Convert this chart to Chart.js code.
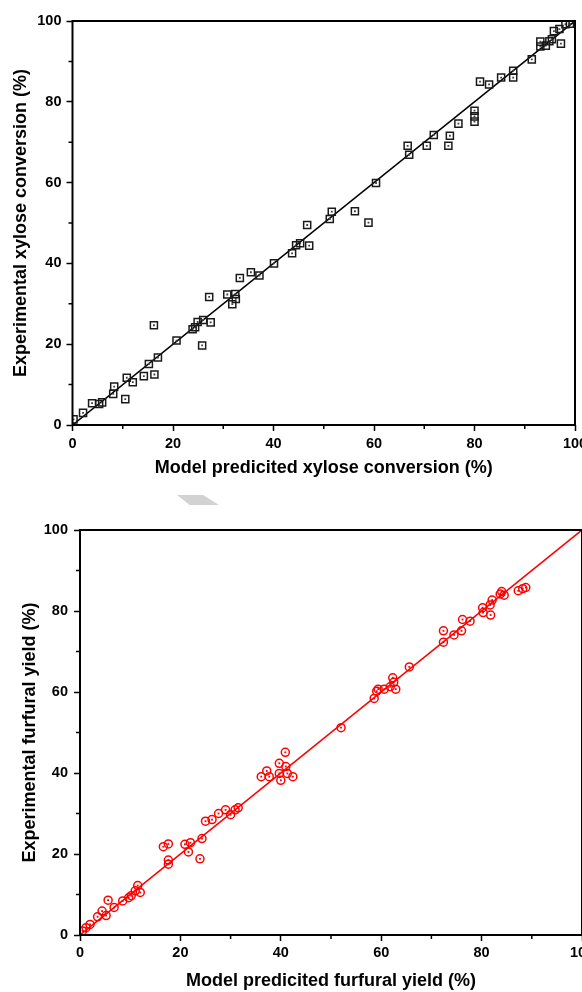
<!DOCTYPE html>
<html>
<head>
<meta charset="utf-8">
<script src="https://cdn.jsdelivr.net/npm/chart.js@4.4.0/dist/chart.umd.min.js"></script>
<style>
html, body { margin: 0; padding: 0; width: 582px; height: 992px; overflow: hidden; background: #fff; }
#xyloseChart { position: absolute; left: 0; top: 0; }
#furfuralChart { position: absolute; left: 0; top: 480px; }
.arrow-mark { position: absolute; left: 177px; top: 495px; width: 42px; height: 10px; background: #d2d2d2;
  clip-path: polygon(0 0, 62% 0, 100% 100%, 30% 100%); }
</style>
</head>
<body>
<canvas id="xyloseChart" width="620" height="480"></canvas>
<canvas id="furfuralChart" width="620" height="512"></canvas>
<div class="arrow-mark"></div>
<script>
// xylose conversion (%): model prediction vs experiment
var xylosePredicted = [0.2, 2.1, 3.9, 5.3, 5.9, 8.1, 8.3, 10.5, 10.8, 12.0, 14.2, 15.2, 16.2, 16.3, 17.0,
  20.7, 23.9, 24.4, 24.9, 25.8, 26.0, 27.2, 27.5, 30.8, 31.8, 32.4, 32.5, 33.3, 35.5, 37.2, 40.1,
  43.7, 44.5, 45.3, 47.1, 46.7, 51.2, 51.6, 56.2, 58.9, 60.4, 66.7, 67.0, 70.5, 71.9, 74.8, 75.1,
  76.8, 80.0, 80.0, 80.0, 81.1, 82.9, 85.3, 87.7, 87.7, 91.4, 93.1, 93.1, 94.2, 94.9, 95.4, 97.2,
  95.8, 96.9, 98.1, 99.0];
var xyloseExperimental = [1.4, 3.0, 5.4, 5.2, 5.6, 7.7, 9.5, 6.4, 11.7, 10.6, 12.1, 15.1, 24.7, 12.5, 16.7,
  20.9, 23.7, 24.2, 25.5, 19.7, 26.0, 31.7, 25.4, 32.3, 29.9, 32.4, 31.2, 36.4, 37.8, 37.0, 40.0,
  42.5, 44.5, 45.0, 44.4, 49.5, 51.0, 52.8, 52.9, 50.1, 59.9, 69.1, 66.9, 69.1, 71.8, 69.1, 71.6,
  74.6, 77.8, 76.4, 75.1, 85.0, 84.3, 86.0, 87.7, 86.0, 90.5, 94.9, 93.7, 93.9, 95.0, 95.5, 94.4,
  97.5, 98.0, 99.2, 99.3];

// furfural yield (%): model prediction vs experiment
var furfuralPredicted = [0.5, 1.2, 2.0, 3.5, 4.4, 5.2, 5.6, 6.8, 8.5, 9.7, 10.2, 11.0, 11.5, 12.0,
  16.6, 17.6, 17.6, 17.6, 20.9, 21.6, 22.0, 23.9, 24.3, 25.0, 26.3, 27.6, 29.0, 30.0, 30.9, 31.5,
  36.1, 37.2, 37.7, 39.7, 39.7, 40.0, 40.9, 41.0, 41.3, 42.4, 52.0, 58.6, 59.1, 59.4, 60.6, 61.8,
  62.3, 62.5, 62.9, 65.6, 72.4, 72.4, 74.5, 76.0, 76.2, 77.7, 80.2, 80.3, 81.7, 81.8, 82.1, 83.7,
  84.0, 84.5, 87.3, 88.2, 88.8];
var furfuralExperimental = [1.0, 1.8, 2.6, 4.5, 5.9, 4.8, 8.6, 6.8, 8.4, 9.2, 9.7, 10.9, 12.2, 10.5,
  21.8, 22.5, 18.5, 17.5, 22.4, 20.5, 22.8, 18.8, 23.8, 28.1, 28.5, 30.0, 30.9, 29.7, 30.9, 31.4,
  39.1, 40.5, 39.1, 42.4, 39.9, 38.2, 45.1, 41.6, 39.9, 39.1, 51.2, 58.4, 60.2, 60.7, 60.7, 61.3,
  63.5, 62.4, 60.7, 66.2, 72.3, 75.1, 74.1, 75.1, 77.9, 77.5, 80.8, 79.6, 81.5, 79.0, 82.7, 84.2,
  84.8, 83.9, 85.0, 85.5, 85.8];

// parity line y = x
var parityX = [0, 100];
var parityY = [0, 100];

var majorTicks = [0, 20, 40, 60, 80, 100];
var minorTicks = [10, 30, 50, 70, 90];

var fontFamily = '"Liberation Sans", Arial, sans-serif';

function toPoints(xs, ys) {
    return xs.map(function(x, i) { return {x: x, y: ys[i]}; });
}

// box round the plot area and the short minor ticks
var framePlugin = {
    id: 'frame',
    afterDraw: function(chart) {
        var ctx = chart.ctx, a = chart.chartArea;
        var xs = chart.scales.x, ys = chart.scales.y;
        ctx.save();
        ctx.strokeStyle = '#000';
        ctx.lineWidth = 2;
        ctx.strokeRect(a.left, a.top, a.right - a.left, a.bottom - a.top);
        ctx.lineWidth = 1.5;
        ctx.beginPath();
        minorTicks.forEach(function(v) {
            var px = xs.getPixelForValue(v);
            ctx.moveTo(px, a.bottom);
            ctx.lineTo(px, a.bottom + 4);
            var py = ys.getPixelForValue(v);
            ctx.moveTo(a.left, py);
            ctx.lineTo(a.left - 4, py);
        });
        ctx.stroke();
        ctx.restore();
    }
};

function makeAxis(title, size, tickPad, titlePad) {
    return {
        type: 'linear',
        min: 0,
        max: 100,
        afterBuildTicks: function(s) {
            s.ticks = majorTicks.map(function(v) { return {value: v}; });
        },
        afterFit: function(s) {
            if (s.isHorizontal()) s.height = size; else s.width = size;
        },
        grid: {
            display: true,
            drawOnChartArea: false,
            drawTicks: true,
            tickLength: 6,
            tickWidth: 1.5,
            tickColor: '#000'
        },
        border: { display: false },
        ticks: {
            color: '#000',
            padding: tickPad,
            font: { family: fontFamily, size: 14.5, weight: 'bold' }
        },
        title: {
            display: true,
            text: title,
            color: '#000',
            padding: titlePad,
            font: { family: fontFamily, size: 18, weight: 'bold' }
        }
    };
}

function createChart(canvasId, xs, ys, cfg) {
    var points = toPoints(xs, ys);
    return new Chart(document.getElementById(canvasId).getContext('2d'), {
        type: 'scatter',
        data: {
            datasets: [{
                data: points,
                pointStyle: cfg.pointStyle,
                pointRadius: cfg.pointRadius,
                borderColor: cfg.markColor,
                borderWidth: 1.5,
                backgroundColor: 'transparent'
            }, {
                // centre dot of each marker
                data: points,
                pointStyle: 'rect',
                pointRadius: 1.3,
                borderWidth: 0,
                backgroundColor: cfg.dotColor
            }, {
                data: toPoints(parityX, parityY),
                showLine: true,
                pointRadius: 0,
                borderColor: cfg.lineColor,
                borderWidth: 1.6
            }]
        },
        options: {
            responsive: false,
            animation: false,
            events: [],
            layout: { padding: cfg.padding },
            plugins: { legend: { display: false }, tooltip: { enabled: false } },
            scales: {
                x: makeAxis(cfg.xTitle, cfg.xSize, cfg.xTickPad, { top: 0, bottom: cfg.xTitlePad }),
                y: makeAxis(cfg.yTitle, cfg.ySize, cfg.yTickPad, { top: cfg.yTitlePad, bottom: 0 })
            }
        },
        plugins: [framePlugin]
    });
}

createChart('xyloseChart', xylosePredicted, xyloseExperimental, {
    pointStyle: 'rect',
    pointRadius: 5,
    markColor: '#1a1a1a',
    dotColor: '#444',
    lineColor: '#000',
    padding: { left: 0, top: 21, right: 45, bottom: 0 },
    xTitle: 'Model predicited xylose conversion (%)',
    yTitle: 'Experimental xylose conversion (%)',
    xSize: 55, ySize: 72.5,
    xTickPad: 4, yTickPad: 5,
    xTitlePad: 1.2, yTitlePad: 10
});

createChart('furfuralChart', furfuralPredicted, furfuralExperimental, {
    pointStyle: 'circle',
    pointRadius: 4,
    markColor: '#ff0000',
    dotColor: '#ff0000',
    lineColor: '#ff0000',
    padding: { left: 0, top: 50, right: 38, bottom: 0 },
    xTitle: 'Model predicited furfural yield (%)',
    yTitle: 'Experimental furfural yield (%)',
    xSize: 57, ySize: 80,
    xTickPad: 3.5, yTickPad: 6,
    xTitlePad: 0, yTitlePad: 19
});
</script>
</body>
</html>
